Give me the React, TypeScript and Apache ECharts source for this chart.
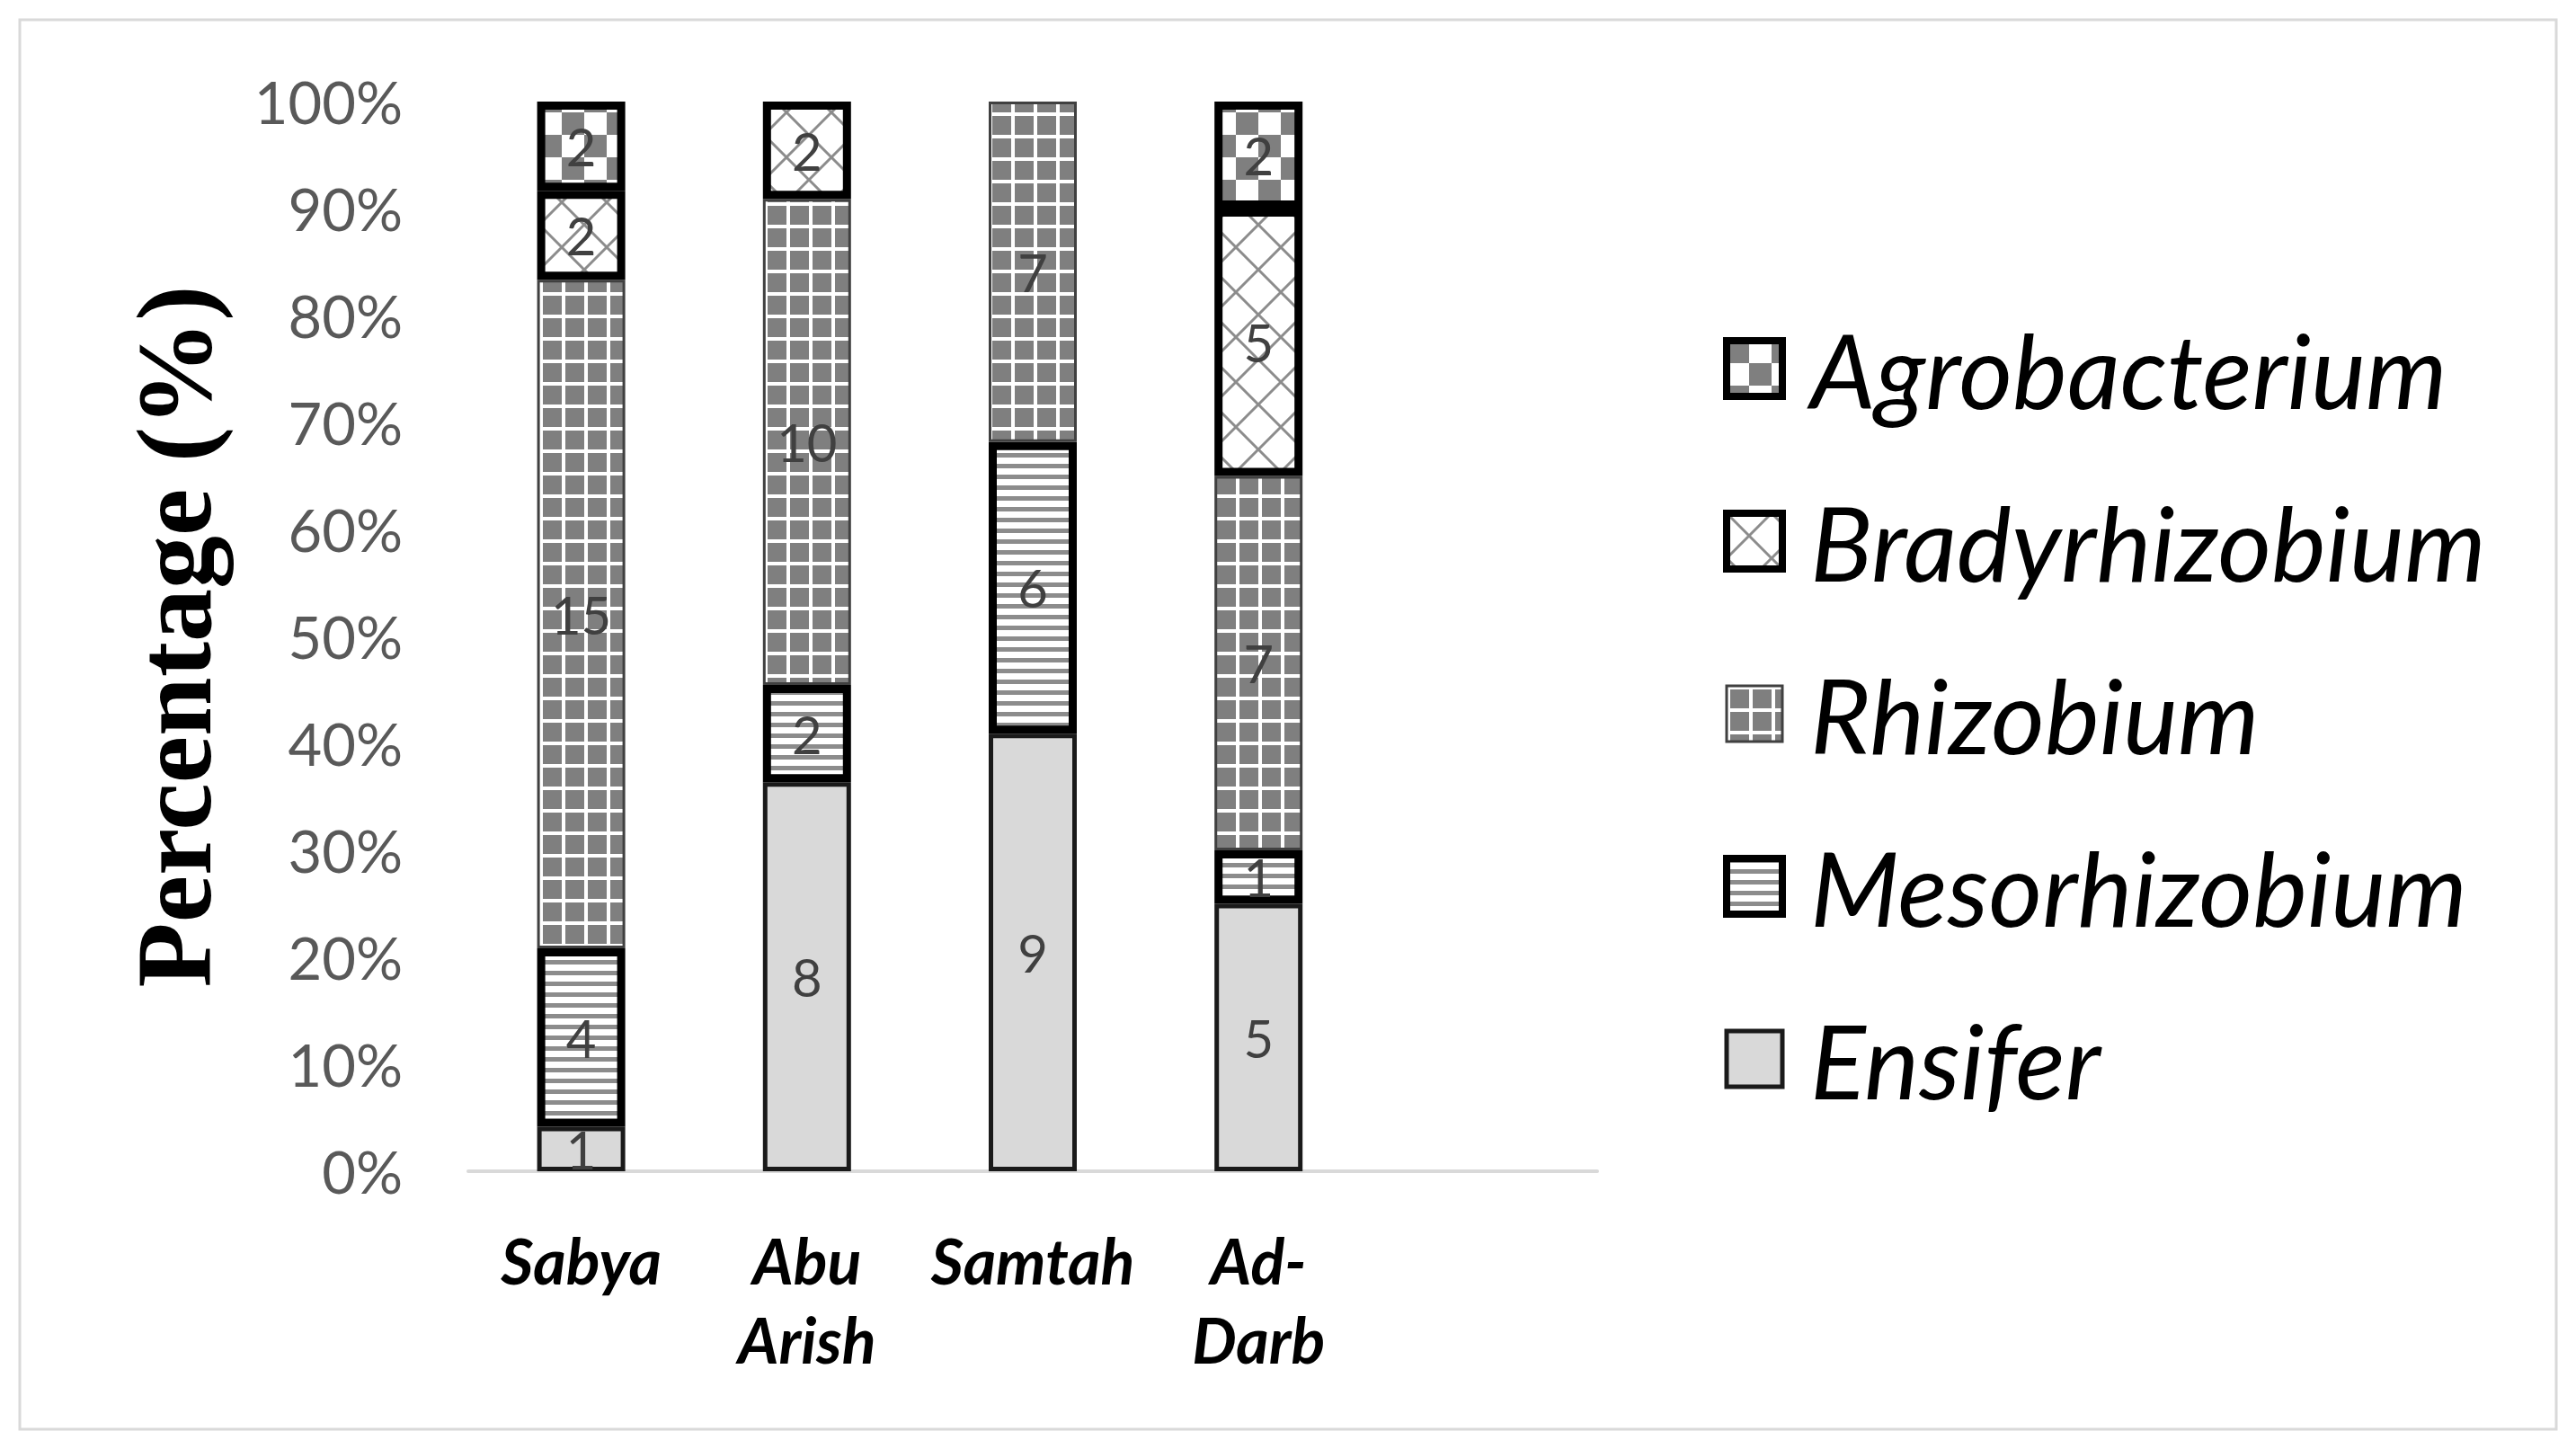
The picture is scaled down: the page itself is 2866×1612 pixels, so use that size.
import React, { useEffect, useRef } from "react";
import * as echarts from "echarts";

const categories = ["Sabya", "Abu Arish", "Samtah", "Ad-Darb", ""];
const ensifer = [1, 8, 9, 5];
const mesorhizobium = [4, 2, 6, 1];
const rhizobium = [15, 10, 7, 7];
const bradyrhizobium = [2, 2, 0, 5];
const agrobacterium = [2, 0, 0, 2];
const yTicks = [0, 10, 20, 30, 40, 50, 60, 70, 80, 90, 100];

function makeTile(w: number, h: number, draw: (ctx: CanvasRenderingContext2D) => void) {
  const c = document.createElement("canvas");
  c.width = w;
  c.height = h;
  const ctx = c.getContext("2d")!;
  draw(ctx);
  return { image: c, repeat: "repeat", imageWidth: w, imageHeight: h } as any;
}

export default function App() {
  const ref = useRef<HTMLDivElement>(null);
  useEffect(() => {
    if (!ref.current) return;
    const chart = echarts.init(ref.current, null, { renderer: "svg" });

    const checker = makeTile(50, 50, (ctx) => {
      ctx.fillStyle = "#ffffff";
      ctx.fillRect(0, 0, 50, 50);
      ctx.fillStyle = "#7f7f7f";
      ctx.fillRect(0, 0, 25, 25);
      ctx.fillRect(25, 25, 25, 25);
    });
    const lattice = makeTile(50, 50, (ctx) => {
      ctx.fillStyle = "#ffffff";
      ctx.fillRect(0, 0, 50, 50);
      ctx.strokeStyle = "#8c8c8c";
      ctx.lineWidth = 3;
      ctx.beginPath();
      ctx.moveTo(0, 0);
      ctx.lineTo(50, 50);
      ctx.moveTo(50, 0);
      ctx.lineTo(0, 50);
      ctx.stroke();
    });
    const grid = makeTile(25, 25, (ctx) => {
      ctx.fillStyle = "#7f7f7f";
      ctx.fillRect(0, 0, 25, 25);
      ctx.fillStyle = "#ffffff";
      ctx.fillRect(0, 0, 25, 4);
      ctx.fillRect(0, 0, 4, 25);
    });
    const stripes = makeTile(12, 12, (ctx) => {
      ctx.fillStyle = "#ffffff";
      ctx.fillRect(0, 0, 12, 12);
      ctx.fillStyle = "#8c8c8c";
      ctx.fillRect(0, 0, 12, 5);
    });

    const totals = ensifer.map(
      (_, i) => ensifer[i] + mesorhizobium[i] + rhizobium[i] + bradyrhizobium[i] + agrobacterium[i]
    );

    const defs = [
      { name: "Ensifer", counts: ensifer, color: "#d9d9d9", border: "#1a1a1a", bw: 5 },
      { name: "Mesorhizobium", counts: mesorhizobium, color: stripes, border: "#000000", bw: 9 },
      { name: "Rhizobium", counts: rhizobium, color: grid, border: "#404040", bw: 3 },
      { name: "Bradyrhizobium", counts: bradyrhizobium, color: lattice, border: "#000000", bw: 9 },
      { name: "Agrobacterium", counts: agrobacterium, color: checker, border: "#000000", bw: 9 },
    ];

    const series = defs.map((d) => ({
      name: d.name,
      type: "bar",
      stack: "total",
      barWidth: 98,
      data: categories.map((_, i) =>
        i < d.counts.length && d.counts[i] > 0 ? (d.counts[i] / totals[i]) * 100 : "-"
      ),
      itemStyle: { color: d.color, borderColor: d.border, borderWidth: d.bw },
      label: {
        show: true,
        position: "inside",
        fontFamily: "Lato",
        fontSize: 58,
        color: "#404040",
        formatter: (p: any) => {
          const v = d.counts[p.dataIndex];
          return v ? String(v) : "";
        },
      },
      emphasis: { disabled: true },
    }));

    const legendOrder = ["Agrobacterium", "Bradyrhizobium", "Rhizobium", "Mesorhizobium", "Ensifer"];

    chart.setOption({
      animation: false,
      backgroundColor: "#ffffff",
      grid: { left: 521, right: 1089, top: 113, bottom: 309, containLabel: false },
      graphic: [
        {
          type: "rect",
          shape: { x: 22, y: 22, width: 2822, height: 1568 },
          style: { fill: "none", stroke: "#d9d9d9", lineWidth: 3 },
          silent: true,
        },
      ],
      legend: {
        orient: "vertical",
        left: 1912,
        top: 345,
        icon: "rect",
        itemWidth: 62,
        itemHeight: 62,
        itemGap: 72,
        selectedMode: false,
        textStyle: {
          fontFamily: "Lato",
          fontStyle: "italic",
          fontSize: 115,
          lineHeight: 120,
          color: "#000000",
          padding: [0, 0, 0, 26],
        },
        data: legendOrder.map((n) => {
          const d = defs.find((x) => x.name === n)!;
          return {
            name: n,
            itemStyle: { color: d.color, borderColor: d.border, borderWidth: Math.min(d.bw, 8) },
          };
        }),
      },
      xAxis: {
        type: "category",
        data: categories,
        axisLine: { show: true, lineStyle: { color: "#d9d9d9", width: 4 } },
        axisTick: { show: false },
        axisLabel: {
          interval: 0,
          margin: 55,
          fontFamily: "Lato",
          fontStyle: "italic",
          fontWeight: "bold",
          fontSize: 70,
          lineHeight: 88,
          color: "#000000",
          formatter: (v: string) => v.replace(" ", "\n").replace("-", "-\n"),
        },
      },
      yAxis: {
        type: "value",
        min: yTicks[0],
        max: yTicks[yTicks.length - 1],
        interval: 10,
        name: "Percentage (%)",
        nameLocation: "middle",
        nameRotate: 90,
        nameGap: 268,
        nameTextStyle: {
          fontFamily: "Liberation Serif",
          fontWeight: "bold",
          fontSize: 118,
          color: "#000000",
        },
        axisLine: { show: false },
        axisTick: { show: false },
        splitLine: { show: false },
        axisLabel: {
          margin: 73,
          fontFamily: "Lato",
          fontSize: 65,
          color: "#595959",
          formatter: "{value}%",
        },
      },
      series,
    } as any);

    return () => chart.dispose();
  }, []);

  return (
    <div
      ref={ref}
      style={{ position: "fixed", left: 0, top: 0, width: 2866, height: 1612, background: "#ffffff" }}
    />
  );
}
